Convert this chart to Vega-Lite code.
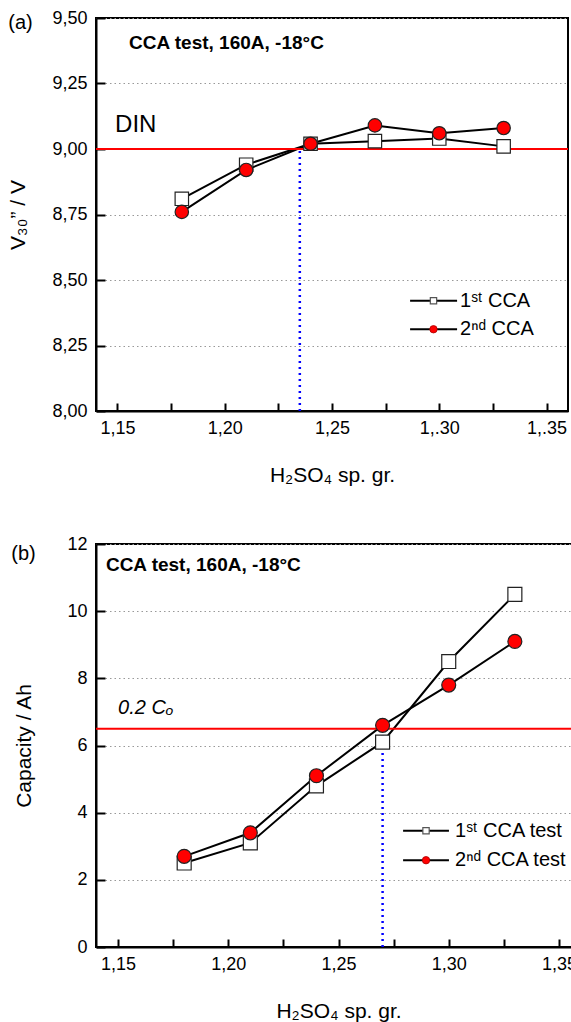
{
  "$schema": "https://vega.github.io/schema/vega-lite/v6.json",
  "padding": {"left": 6, "top": 8, "right": 0, "bottom": 0},
  "spacing": 48,
  "config": {
    "font": "Liberation Sans",
    "view": {"stroke": "black", "strokeWidth": 2},
    "axis": {"domainColor": "black", "domainWidth": 2, "tickColor": "black", "tickWidth": 2, "labelColor": "black", "labelFontSize": 18, "titleFontSize": 21, "titleFontWeight": "normal", "titleColor": "black", "gridColor": "#999999", "gridDash": [1.5, 3], "gridWidth": 1, "labelOverlap": false},
    "axisX": {"grid": false, "tickSize": -8, "labelPadding": 16, "labelFlush": false},
    "axisY": {"grid": true, "tickSize": -9, "labelPadding": 18}
  },
  "datasets": {
    "a": [
      {"sg": 1.18, "v": 8.81, "series": "1st"},
      {"sg": 1.21, "v": 8.94, "series": "1st"},
      {"sg": 1.24, "v": 9.02, "series": "1st"},
      {"sg": 1.27, "v": 9.03, "series": "1st"},
      {"sg": 1.30, "v": 9.04, "series": "1st"},
      {"sg": 1.33, "v": 9.01, "series": "1st"},
      {"sg": 1.18, "v": 8.76, "series": "2nd"},
      {"sg": 1.21, "v": 8.92, "series": "2nd"},
      {"sg": 1.24, "v": 9.02, "series": "2nd"},
      {"sg": 1.27, "v": 9.09, "series": "2nd"},
      {"sg": 1.30, "v": 9.06, "series": "2nd"},
      {"sg": 1.33, "v": 9.08, "series": "2nd"}
    ],
    "b": [
      {"sg": 1.18, "c": 2.5, "series": "1st"},
      {"sg": 1.21, "c": 3.1, "series": "1st"},
      {"sg": 1.24, "c": 4.8, "series": "1st"},
      {"sg": 1.27, "c": 6.1, "series": "1st"},
      {"sg": 1.30, "c": 8.5, "series": "1st"},
      {"sg": 1.33, "c": 10.5, "series": "1st"},
      {"sg": 1.18, "c": 2.7, "series": "2nd"},
      {"sg": 1.21, "c": 3.4, "series": "2nd"},
      {"sg": 1.24, "c": 5.1, "series": "2nd"},
      {"sg": 1.27, "c": 6.6, "series": "2nd"},
      {"sg": 1.30, "c": 7.8, "series": "2nd"},
      {"sg": 1.33, "c": 9.1, "series": "2nd"}
    ]
  },
  "resolve": {"scale": {"fill": "independent", "shape": "independent"}},
  "vconcat": [
    {
      "width": 472,
      "height": 393,
      "layer": [
        {
          "data": {"name": "a"},
          "mark": {"type": "line", "color": "black", "strokeWidth": 2},
          "encoding": {
            "x": {"field": "sg", "type": "quantitative", "title": "H₂SO₄ sp. gr.",
              "scale": {"domain": [1.14, 1.36], "nice": false, "zero": false},
              "axis": {"values": [1.15, 1.175, 1.2, 1.225, 1.25, 1.275, 1.3, 1.325, 1.35], "titlePadding": 27,
                "labelExpr": "abs(datum.value*20-round(datum.value*20))<0.01 ? (datum.value > 1.28 ? replace(format(datum.value,'.2f'),'.',',.') : replace(format(datum.value,'.2f'),'.',',')) : ''",
                "encode": {"ticks": {"y2": {"condition": {"test": "abs(datum.value*20-round(datum.value*20))<0.01", "value": -8}, "value": -4}}}}},
            "y": {"field": "v", "type": "quantitative", "title": "V₃₀” / V",
              "scale": {"domain": [8, 9.5], "nice": false, "zero": false},
              "axis": {"values": [8, 8.25, 8.5, 8.75, 9, 9.25, 9.5], "titlePadding": 23,
                "labelExpr": "replace(format(datum.value,'.2f'),'.',',')"}},
            "detail": {"field": "series"}
          }
        },
        {
          "data": {"values": [{}]},
          "mark": {"type": "rule", "color": "#ff0000", "strokeWidth": 2},
          "encoding": {"y": {"datum": 9.0}}
        },
        {
          "data": {"values": [{}]},
          "mark": {"type": "rule", "color": "#0000ff", "strokeWidth": 2.5, "strokeDash": [2, 4]},
          "encoding": {"x": {"datum": 1.235}, "y": {"datum": 8.0}, "y2": {"datum": 9.0}}
        },
        {
          "data": {"name": "a"},
          "mark": {"type": "point", "filled": true, "stroke": "#222222", "strokeWidth": 1.2, "opacity": 1, "size": 180},
          "encoding": {
            "x": {"field": "sg", "type": "quantitative"},
            "y": {"field": "v", "type": "quantitative"},
            "shape": {"field": "series", "type": "nominal", "scale": {"domain": ["1st", "2nd"], "range": ["square", "circle"]}, "legend": null},
            "fill": {"field": "series", "type": "nominal", "scale": {"domain": ["1st", "2nd"], "range": ["#ffffff", "#ff0000"]}, "legend": null}
          }
        },
        {
          "data": {"values": [{}]},
          "mark": {"type": "rule", "color": "black", "strokeWidth": 2},
          "encoding": {"x": {"datum": 1.2864}, "x2": {"datum": 1.3083}, "y": {"datum": 8.421}}
        },
        {
          "data": {"values": [{}]},
          "mark": {"type": "rule", "color": "black", "strokeWidth": 2},
          "encoding": {"x": {"datum": 1.2864}, "x2": {"datum": 1.3083}, "y": {"datum": 8.312}}
        },
        {
          "data": {"values": [{}]},
          "mark": {"type": "point", "shape": "square", "filled": true, "fill": "white", "stroke": "#555555", "strokeWidth": 1.2, "opacity": 1, "size": 40},
          "encoding": {"x": {"datum": 1.2973}, "y": {"datum": 8.421}}
        },
        {
          "data": {"values": [{}]},
          "mark": {"type": "point", "shape": "circle", "filled": true, "fill": "#ff0000", "stroke": "#aa0000", "strokeWidth": 0.8, "opacity": 1, "size": 55},
          "encoding": {"x": {"datum": 1.2973}, "y": {"datum": 8.312}}
        },
        {
          "data": {"values": [{}]},
          "mark": {"type": "text", "text": "1ˢᵗ CCA", "fontSize": 20, "align": "left", "baseline": "middle", "color": "black"},
          "encoding": {"x": {"datum": 1.3097}, "y": {"datum": 8.421}}
        },
        {
          "data": {"values": [{}]},
          "mark": {"type": "text", "text": "2ⁿᵈ CCA", "fontSize": 20, "align": "left", "baseline": "middle", "color": "black"},
          "encoding": {"x": {"datum": 1.3097}, "y": {"datum": 8.312}}
        },
        {
          "data": {"values": [{}]},
          "mark": {"type": "text", "text": "CCA test, 160A, -18°C", "fontWeight": "bold", "fontSize": 19, "align": "left", "baseline": "alphabetic", "color": "black"},
          "encoding": {"x": {"datum": 1.1554}, "y": {"datum": 9.382}}
        },
        {
          "data": {"values": [{}]},
          "mark": {"type": "text", "text": "DIN", "fontSize": 24, "align": "left", "baseline": "alphabetic", "color": "black"},
          "encoding": {"x": {"datum": 1.1489}, "y": {"datum": 9.066}}
        },
        {
          "data": {"values": [{}]},
          "mark": {"type": "text", "text": "(a)", "fontSize": 20, "align": "center", "baseline": "middle", "dx": -75.5, "color": "black"},
          "encoding": {"x": {"datum": 1.14}, "y": {"datum": 9.481}}
        }
      ]
    },
    {
      "width": 485,
      "height": 403,
      "layer": [
        {
          "data": {"name": "b"},
          "mark": {"type": "line", "color": "black", "strokeWidth": 2},
          "encoding": {
            "x": {"field": "sg", "type": "quantitative", "title": "H₂SO₄ sp. gr.",
              "scale": {"domain": [1.14, 1.36], "nice": false, "zero": false},
              "axis": {"values": [1.15, 1.175, 1.2, 1.225, 1.25, 1.275, 1.3, 1.325, 1.35], "titlePadding": 27,
                "labelExpr": "abs(datum.value*20-round(datum.value*20))<0.01 ? replace(format(datum.value,'.2f'),'.',',') : ''",
                "encode": {"ticks": {"y2": {"condition": {"test": "abs(datum.value*20-round(datum.value*20))<0.01", "value": -8}, "value": -4}}}}},
            "y": {"field": "c", "type": "quantitative", "title": "Capacity / Ah",
              "scale": {"domain": [0, 12], "nice": false},
              "axis": {"values": [0, 2, 4, 6, 8, 10, 12], "titlePadding": 32, "format": "d"}},
            "detail": {"field": "series"}
          }
        },
        {
          "data": {"values": [{}]},
          "mark": {"type": "rule", "color": "#ff0000", "strokeWidth": 2},
          "encoding": {"y": {"datum": 6.5}}
        },
        {
          "data": {"values": [{}]},
          "mark": {"type": "rule", "color": "#0000ff", "strokeWidth": 2.5, "strokeDash": [2, 4]},
          "encoding": {"x": {"datum": 1.27}, "y": {"datum": 0}, "y2": {"datum": 6.5}}
        },
        {
          "data": {"name": "b"},
          "mark": {"type": "point", "filled": true, "stroke": "#222222", "strokeWidth": 1.2, "opacity": 1, "size": 195},
          "encoding": {
            "x": {"field": "sg", "type": "quantitative"},
            "y": {"field": "c", "type": "quantitative"},
            "shape": {"field": "series", "type": "nominal", "scale": {"domain": ["1st", "2nd"], "range": ["square", "circle"]}, "legend": null},
            "fill": {"field": "series", "type": "nominal", "scale": {"domain": ["1st", "2nd"], "range": ["#ffffff", "#ff0000"]}, "legend": null}
          }
        },
        {
          "data": {"values": [{}]},
          "mark": {"type": "rule", "color": "black", "strokeWidth": 2},
          "encoding": {"x": {"datum": 1.2793}, "x2": {"datum": 1.3001}, "y": {"datum": 3.462}}
        },
        {
          "data": {"values": [{}]},
          "mark": {"type": "rule", "color": "black", "strokeWidth": 2},
          "encoding": {"x": {"datum": 1.2793}, "x2": {"datum": 1.3001}, "y": {"datum": 2.584}}
        },
        {
          "data": {"values": [{}]},
          "mark": {"type": "point", "shape": "square", "filled": true, "fill": "white", "stroke": "#555555", "strokeWidth": 1.2, "opacity": 1, "size": 40},
          "encoding": {"x": {"datum": 1.2897}, "y": {"datum": 3.462}}
        },
        {
          "data": {"values": [{}]},
          "mark": {"type": "point", "shape": "circle", "filled": true, "fill": "#ff0000", "stroke": "#aa0000", "strokeWidth": 0.8, "opacity": 1, "size": 55},
          "encoding": {"x": {"datum": 1.2897}, "y": {"datum": 2.584}}
        },
        {
          "data": {"values": [{}]},
          "mark": {"type": "text", "text": "1ˢᵗ CCA test", "fontSize": 20, "align": "left", "baseline": "middle", "color": "black"},
          "encoding": {"x": {"datum": 1.3029}, "y": {"datum": 3.462}}
        },
        {
          "data": {"values": [{}]},
          "mark": {"type": "text", "text": "2ⁿᵈ CCA test", "fontSize": 20, "align": "left", "baseline": "middle", "color": "black"},
          "encoding": {"x": {"datum": 1.3029}, "y": {"datum": 2.584}}
        },
        {
          "data": {"values": [{}]},
          "mark": {"type": "text", "text": "CCA test, 160A, -18°C", "fontWeight": "bold", "fontSize": 19, "align": "left", "baseline": "alphabetic", "color": "black"},
          "encoding": {"x": {"datum": 1.1445}, "y": {"datum": 11.184}}
        },
        {
          "data": {"values": [{}]},
          "mark": {"type": "text", "text": "0.2 Cₒ", "fontSize": 20, "fontStyle": "italic", "align": "left", "baseline": "alphabetic", "color": "black"},
          "encoding": {"x": {"datum": 1.15}, "y": {"datum": 6.937}}
        },
        {
          "data": {"values": [{}]},
          "mark": {"type": "text", "text": "(b)", "fontSize": 20, "align": "center", "baseline": "middle", "dx": -72.5, "color": "black"},
          "encoding": {"x": {"datum": 1.14}, "y": {"datum": 11.71}}
        }
      ]
    }
  ]
}
